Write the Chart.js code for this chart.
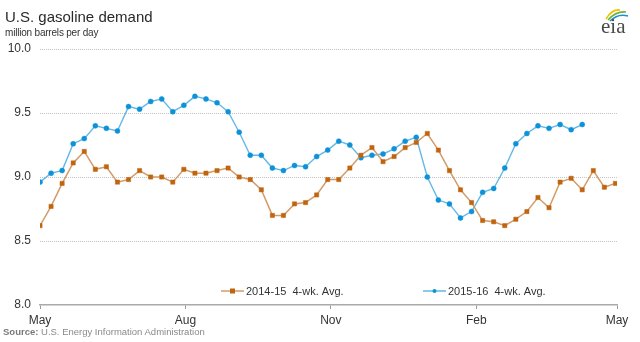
<!DOCTYPE html>
<html>
<head>
<meta charset="utf-8">
<script src="https://cdn.jsdelivr.net/npm/chart.js@4"></script>
<style>
  html, body { margin: 0; padding: 0; background: #fff; }
  #wrap { position: relative; width: 640px; height: 342px; overflow: hidden; font-family: "Liberation Sans", Arial, sans-serif; }
  #chart { position: absolute; left: 0; top: 0; }
  .title { position: absolute; left: 5px; top: 8px; font-size: 15px; color: #2a2a2a; }
  .units { position: absolute; left: 5px; top: 27px; font-size: 10px; color: #333; letter-spacing: -0.2px; }
  .source { position: absolute; left: 3px; top: 326px; font-size: 9.5px; color: #8a8a8a; }
  .source b { color: #7a7a7a; }
  .logo { position: absolute; left: 596px; top: 4px; width: 36px; height: 32px; }
</style>
</head>
<body>
<div id="wrap">
  <canvas id="chart" width="640" height="342"></canvas>
  <div class="title">U.S. gasoline demand</div>
  <div class="units">million barrels per day</div>
  <div class="source"><b>Source:</b> U.S. Energy Information Administration</div>
  <svg class="logo" viewBox="0 0 36 32">
    <path d="M10 15 Q16 5 24 6" stroke="#f2c200" stroke-width="1.6" fill="none"/>
    <path d="M12 16 Q20 7 30 8" stroke="#6db33f" stroke-width="1.6" fill="none"/>
    <path d="M14 17 Q22 9 32 12" stroke="#1b8fd2" stroke-width="1.6" fill="none"/>
    <text x="5" y="29" font-family="Liberation Serif, DejaVu Serif, serif" font-size="21" fill="#4a4a4a">eia</text>
  </svg>
</div>
<script>
// weekly 4-week averages, million barrels per day, starting first week of May
const season1415 = [
  8.62, 8.77, 8.95, 9.11, 9.20, 9.06, 9.08, 8.96, 8.98, 9.05,
  9.00, 9.00, 8.96, 9.06, 9.03, 9.03, 9.05, 9.07, 9.00, 8.98,
  8.90, 8.70, 8.70, 8.79, 8.80, 8.86, 8.98, 8.98, 9.07, 9.17,
  9.23, 9.12, 9.16, 9.23, 9.27, 9.34, 9.21, 9.05, 8.90, 8.80,
  8.66, 8.65, 8.62, 8.67, 8.73, 8.84, 8.76, 8.96, 8.99, 8.90,
  9.05, 8.92, 8.95
];
const season1516 = [
  8.96, 9.03, 9.05, 9.26, 9.30, 9.40, 9.38, 9.36, 9.55, 9.53,
  9.59, 9.61, 9.51, 9.56, 9.63, 9.61, 9.58, 9.51, 9.35, 9.17,
  9.17, 9.07, 9.05, 9.09, 9.08, 9.16, 9.21, 9.28, 9.25, 9.15,
  9.17, 9.18, 9.22, 9.28, 9.31, 9.00, 8.82, 8.79, 8.68, 8.73,
  8.88, 8.91, 9.07, 9.26, 9.34, 9.40, 9.38, 9.41, 9.37, 9.41
];
const seriesNames = ['2014-15  4-wk. Avg.', '2015-16  4-wk. Avg.'];

// x axis runs in days from May 1; month labels sit on the first of the month
const monthDays = [0, 92, 184, 276, 365];
const monthLabels = ['May', 'Aug', 'Nov', 'Feb', 'May'];
const yTicks = [8.0, 8.5, 9.0, 9.5, 10.0];

function toPoints(values) {
  return values.map((v, i) => ({ x: i * 7, y: v }));
}

// legend drawn inside the plot, just above the bottom axis
const insideLegend = {
  id: 'insideLegend',
  afterDraw(chart, args, opts) {
    const ctx = chart.ctx;
    ctx.save();
    ctx.font = '11px "Liberation Sans", Arial, sans-serif';
    ctx.textBaseline = 'middle';
    chart.data.datasets.forEach((ds, i) => {
      const x = opts.starts[i];
      const y = opts.y;
      ctx.strokeStyle = ds.borderColor;
      ctx.lineWidth = 1.5;
      ctx.beginPath();
      ctx.moveTo(x, y);
      ctx.lineTo(x + 23, y);
      ctx.stroke();
      ctx.fillStyle = ds.pointBackgroundColor;
      if (ds.pointStyle === 'rect') {
        ctx.fillRect(x + 9, y - 2.5, 5, 5);
      } else {
        ctx.beginPath();
        ctx.arc(x + 11.5, y, 2, 0, Math.PI * 2);
        ctx.fill();
      }
      ctx.fillStyle = '#333';
      ctx.fillText(ds.label, x + 25, y + 1);
    });
    ctx.restore();
  }
};

const ctx = document.getElementById('chart').getContext('2d');
const chart = new Chart(ctx, {
  type: 'line',
  data: {
    datasets: [
      {
        label: seriesNames[0],
        data: toPoints(season1415),
        borderColor: '#d39b6a',
        borderWidth: 1.5,
        pointStyle: 'rect',
        pointRadius: 3,
        pointBackgroundColor: '#c0650f',
        pointBorderColor: '#c0650f',
        pointBorderWidth: 0.5,
        tension: 0
      },
      {
        label: seriesNames[1],
        data: toPoints(season1516),
        borderColor: '#62b8e6',
        borderWidth: 1.4,
        pointStyle: 'circle',
        pointRadius: 2.5,
        pointBackgroundColor: '#0d92d8',
        pointBorderColor: '#0d92d8',
        pointBorderWidth: 0.5,
        tension: 0
      }
    ]
  },
  options: {
    responsive: false,
    animation: false,
    events: [],
    layout: { padding: { left: 0, top: 49, right: 23, bottom: 14 } },
    plugins: {
      legend: { display: false },
      tooltip: { enabled: false },
      insideLegend: { starts: [221, 423], y: 291 }
    },
    scales: {
      x: {
        type: 'linear',
        min: 0,
        max: 365,
        afterBuildTicks: (scale) => { scale.ticks = monthDays.map(d => ({ value: d })); },
        afterFit: (scale) => { scale.height = 23; },
        ticks: {
          autoSkip: false,
          maxRotation: 0,
          padding: 4,
          color: '#333',
          font: { family: '"Liberation Sans", Arial, sans-serif', size: 12 },
          callback: (value) => monthLabels[monthDays.indexOf(value)]
        },
        grid: {
          drawOnChartArea: false,
          drawTicks: true,
          tickLength: 4,
          color: '#999'
        },
        border: { display: true, color: '#aaa', width: 1.5 }
      },
      y: {
        min: 8,
        max: 10,
        afterBuildTicks: (scale) => { scale.ticks = yTicks.map(v => ({ value: v })); },
        afterFit: (scale) => { scale.width = 40; },
        ticks: {
          padding: 9,
          color: '#333',
          font: { family: '"Liberation Sans", Arial, sans-serif', size: 12 },
          callback: (value) => value.toFixed(1)
        },
        grid: {
          drawTicks: false,
          color: (c) => c.tick && c.tick.value === 8 ? 'rgba(0,0,0,0)' : '#c4c4c4',
          lineWidth: 1
        },
        border: { display: false, dash: [1, 1] }
      }
    }
  },
  plugins: [insideLegend]
});
</script>
</body>
</html>
